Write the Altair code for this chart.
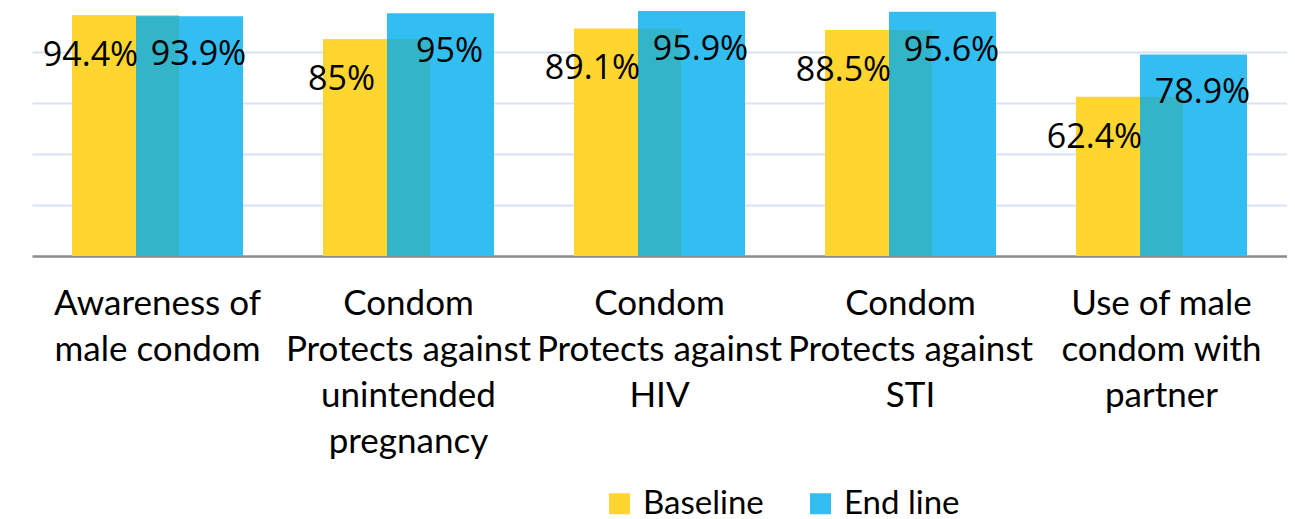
import altair as alt
import pandas as pd

categories = [
    "Awareness of\nmale condom",
    "Condom\nProtects against\nunintended\npregnancy",
    "Condom\nProtects against\nHIV",
    "Condom\nProtects against\nSTI",
    "Use of male\ncondom with\npartner",
]
baseline = [94.4, 85, 89.1, 88.5, 62.4]
endline = [93.9, 95, 95.9, 95.6, 78.9]
series = ["Baseline", "End line"]
colors = ["#FFD530", "#33BEF2"]
overlap_color = "#34B4C8"

wide = pd.DataFrame({"category": categories, "Baseline": baseline, "End line": endline})

BAND = 251
BAR_W = 107 / BAND
OVL_W = 43 / BAND

x = alt.X(
    "category:N",
    sort=categories,
    scale=alt.Scale(paddingInner=0, paddingOuter=0),
    axis=alt.Axis(
        title=None,
        labelExpr="split(datum.label, '\\n')",
        labelAngle=0,
        labelFont="Lato",
        labelFontSize=35,
        labelColor="#000000",
        labelLineHeight=46,
        labelPadding=30,
        labelLimit=400,
        labelOverlap=False,
        labelBound=False,
        ticks=False,
        domainColor="#8C8C8C",
        domainWidth=2.5,
        grid=False,
    ),
)
y = alt.Y(
    "value:Q",
    scale=alt.Scale(domain=[0, 97.1], nice=False, zero=True),
    axis=alt.Axis(
        title=None,
        labels=False,
        ticks=False,
        domain=False,
        grid=True,
        values=[20, 40, 60, 80],
        gridColor="#D5E3F3",
        gridWidth=2,
    ),
)

color = alt.Color(
    "series:N",
    scale=alt.Scale(domain=series, range=colors),
    legend=alt.Legend(
        title=None,
        orient="none",
        legendX=571,
        legendY=479,
        direction="horizontal",
        symbolType="square",
        symbolSize=441,
        symbolStrokeWidth=0,
        symbolOpacity=1,
        labelFont="Lato",
        labelFontSize=33,
        labelColor="#000000",
        labelOffset=7,
        columnPadding=40,
    ),
)

base = alt.Chart(wide)
long = base.transform_fold(["Baseline", "End line"], as_=["series", "value"]).transform_calculate(
    label="datum.value + '%'"
)

bar_base = long.transform_filter("datum.series == 'Baseline'").mark_bar(
    width={"band": BAR_W}, xOffset=-32
).encode(x=x, y=y, color=color)

bar_end = long.transform_filter("datum.series == 'End line'").mark_bar(
    width={"band": BAR_W}, xOffset=32
).encode(x=x, y=y, color=color)

overlap = base.transform_calculate(
    value="min(datum['Baseline'], datum['End line'])"
).mark_bar(width={"band": OVL_W}, xOffset=0, color=overlap_color).encode(x=x, y=y)

txt_base = long.transform_filter("datum.series == 'Baseline'").mark_text(
    font="Open Sans", fontSize=34, color="#000000", baseline="middle", xOffset=-67, dy=41
).encode(x=x, y=y, text="label:N")

txt_end = long.transform_filter("datum.series == 'End line'").mark_text(
    font="Open Sans", fontSize=34, color="#000000", baseline="middle", xOffset=41, dy=39
).encode(x=x, y=y, text="label:N")

chart = (
    alt.layer(bar_base, bar_end, overlap, txt_base, txt_end)
    .properties(
        width=BAND * 5,
        height=248,
        padding={"left": 24, "top": 0, "right": 0, "bottom": 0},
        background="white",
    )
    .configure_view(stroke=None)
)

chart.save("out.html", embed_options={"renderer": "svg", "actions": False})
